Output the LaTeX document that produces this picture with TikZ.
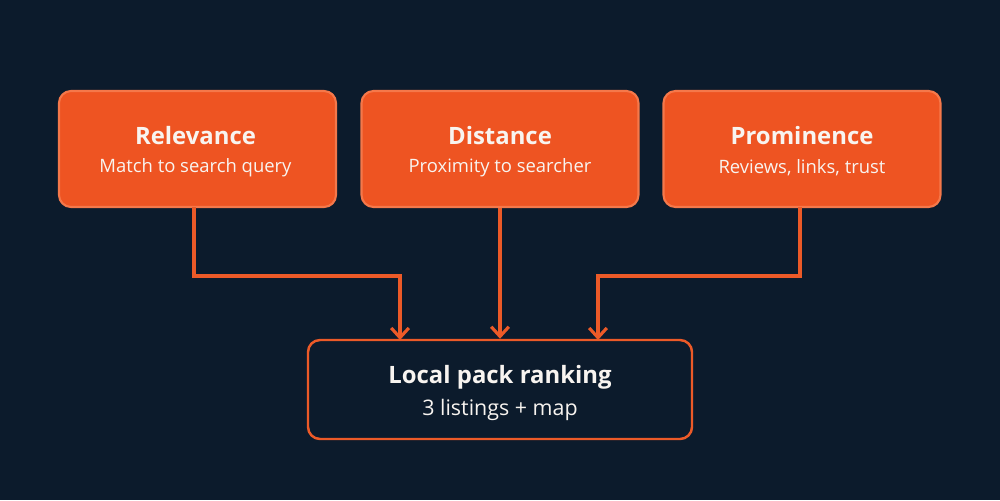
\documentclass[tikz,border=0pt]{standalone}
\usepackage{fontspec}
\setmainfont{Open Sans}
\usetikzlibrary{arrows.meta}
\definecolor{bgc}{HTML}{0C1B2C}
\definecolor{orfill}{HTML}{EE5422}
\definecolor{orline}{HTML}{F5784A}
\definecolor{arr}{HTML}{EC5A28}
\definecolor{txt}{HTML}{F8F4F0}
\begin{document}
\begin{tikzpicture}[x=0.02cm,y=-0.02cm,
  topbox/.style={draw=orline,fill=orfill,line width=1.2pt,rounded corners=0.24cm,
    minimum width=277*0.02cm,minimum height=116*0.02cm,inner sep=0pt,text=txt,align=center},
  botbox/.style={draw=arr,fill=bgc,line width=1.4pt,rounded corners=0.24cm,
    minimum width=384*0.02cm,minimum height=99*0.02cm,inner sep=0pt,text=txt,align=center},
  ttl/.style={font=\fontsize{13.6}{16}\selectfont\bfseries},
  sub/.style={font=\fontsize{10.5}{12}\selectfont},
  bsub/.style={font=\fontsize{12.2}{14}\selectfont},
  conn/.style={draw=arr,line width=1.8pt,-{Straight Barb[length=5.5pt,width=10pt,line width=1.8pt]}}]
\fill[bgc] (0,0) rectangle (1000,500);
\useasboundingbox (0,0) rectangle (1000,500);
\node[topbox] (rel) at (197.5,149) {};
\node[topbox] (dis) at (500,149) {};
\node[topbox] (pro) at (802,149) {};
\node[botbox] (loc) at (500,389.5) {};
\node[ttl,text=txt] (relt) at (195.5,136) {Relevance};
\node[sub,text=txt] (rels) at (195.5,168) {Match to search query};
\node[ttl,text=txt] (dist) at (500,136) {Distance};
\node[sub,text=txt] (diss) at (500,168) {Proximity to searcher};
\node[ttl,text=txt] (prot) at (802,136) {Prominence};
\node[sub,text=txt] (pros) at (802,168) {Reviews, links, trust};
\node[ttl,text=txt] (loct) at (500,377) {Local pack ranking};
\node[bsub,text=txt] (locs) at (500,410) {3 listings + map};
\coordinate (rl) at (194,207);
\coordinate (pl) at (800,207);
\coordinate (la) at (400,340);
\coordinate (ra) at (598,340);
\draw[conn] (rl) |- (400,276) -- (la);
\draw[conn] (dis.south) -- (loc.north);
\draw[conn] (pl) |- (598,276) -- (ra);
\end{tikzpicture}
\end{document}
